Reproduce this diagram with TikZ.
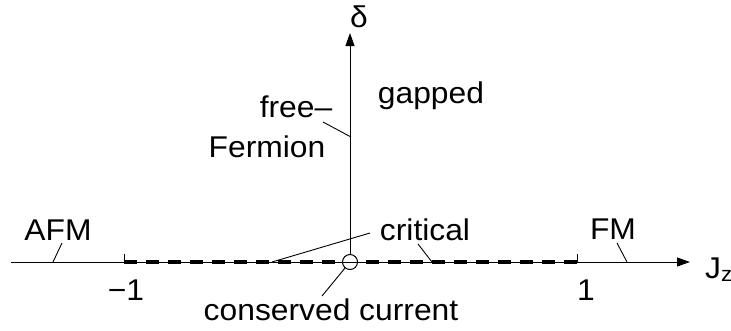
\documentclass[tikz,border=0pt]{standalone}
\usepackage{fontspec}
\setmainfont{Liberation Sans}[FakeStretch=1.06]
\usetikzlibrary{arrows.meta}
\begin{document}
\begin{tikzpicture}[
        x=1pt, y=-1pt,
        lbl/.style={inner sep=0pt, anchor=base, font=\fontsize{30}{36}\selectfont},
        axis/.style={draw, line width=1pt, -{Triangle[length=13pt,width=9pt]}},
        leader/.style={draw, line width=0.9pt},
        crit/.style={draw, line width=3.5pt, dash pattern=on 13pt off 9pt},
        origin/.style={circle, draw, fill=white, line width=1pt, inner sep=0pt, minimum size=15pt}
    ]
        \useasboundingbox (0,0) rectangle (731,330);

        % critical segment
        \coordinate (mone) at (124,262);
        \coordinate (pone) at (577,262);
        \path [crit] (mone) -- (pone);
        \path [leader] (mone) -- ++(0,-8);
        \path [leader] (pone) -- ++(0,-8);

        % axes
        \coordinate (xstart) at (11,262);
        \coordinate (xend) at (690,262);
        \coordinate (yend) at (350,33);
        \node [origin] (cc) at (350,262) {};
        \path [axis] (xstart) -- (xend);
        \path [axis] (cc.north) -- (yend);

        % labels
        \node [lbl] (delta) at (359,27) {δ};
        \node [lbl, anchor=base west] (jz) at (705,278) {J\textsubscript{z}};
        \node [lbl] (gapped) at (431,103) {gapped};
        \node [lbl] (free) at (296,117) {free--};
        \node [lbl] (fermion) at (267,157) {Fermion};
        \node [lbl] (afm) at (58,240) {AFM};
        \node [lbl] (fm) at (613,239) {FM};
        \node [lbl] (critical) at (425,240) {critical};
        \node [lbl] (lm) at (126,300) {−1};
        \node [lbl] (lp) at (586,300) {1};
        \node [lbl] (cons) at (331,320) {conserved current};

        % leaders
        \coordinate (ffa) at (323,122);
        \coordinate (ffb) at (351,137);
        \coordinate (afma) at (62,243);
        \coordinate (afmb) at (53,262);
        \coordinate (fma) at (617,243);
        \coordinate (fmb) at (627,262);
        \coordinate (cra) at (370,233);
        \coordinate (crb) at (272,262);
        \coordinate (crc) at (418,244);
        \coordinate (crd) at (432,262);
        \coordinate (cca) at (322,296);
        \path [leader] (ffa) -- (ffb);
        \path [leader] (afma) -- (afmb);
        \path [leader] (fma) -- (fmb);
        \path [leader] (cra) -- (crb);
        \path [leader] (crc) -- (crd);
        \path [leader] (cca) -- (cc);
    \end{tikzpicture}
\end{document}
